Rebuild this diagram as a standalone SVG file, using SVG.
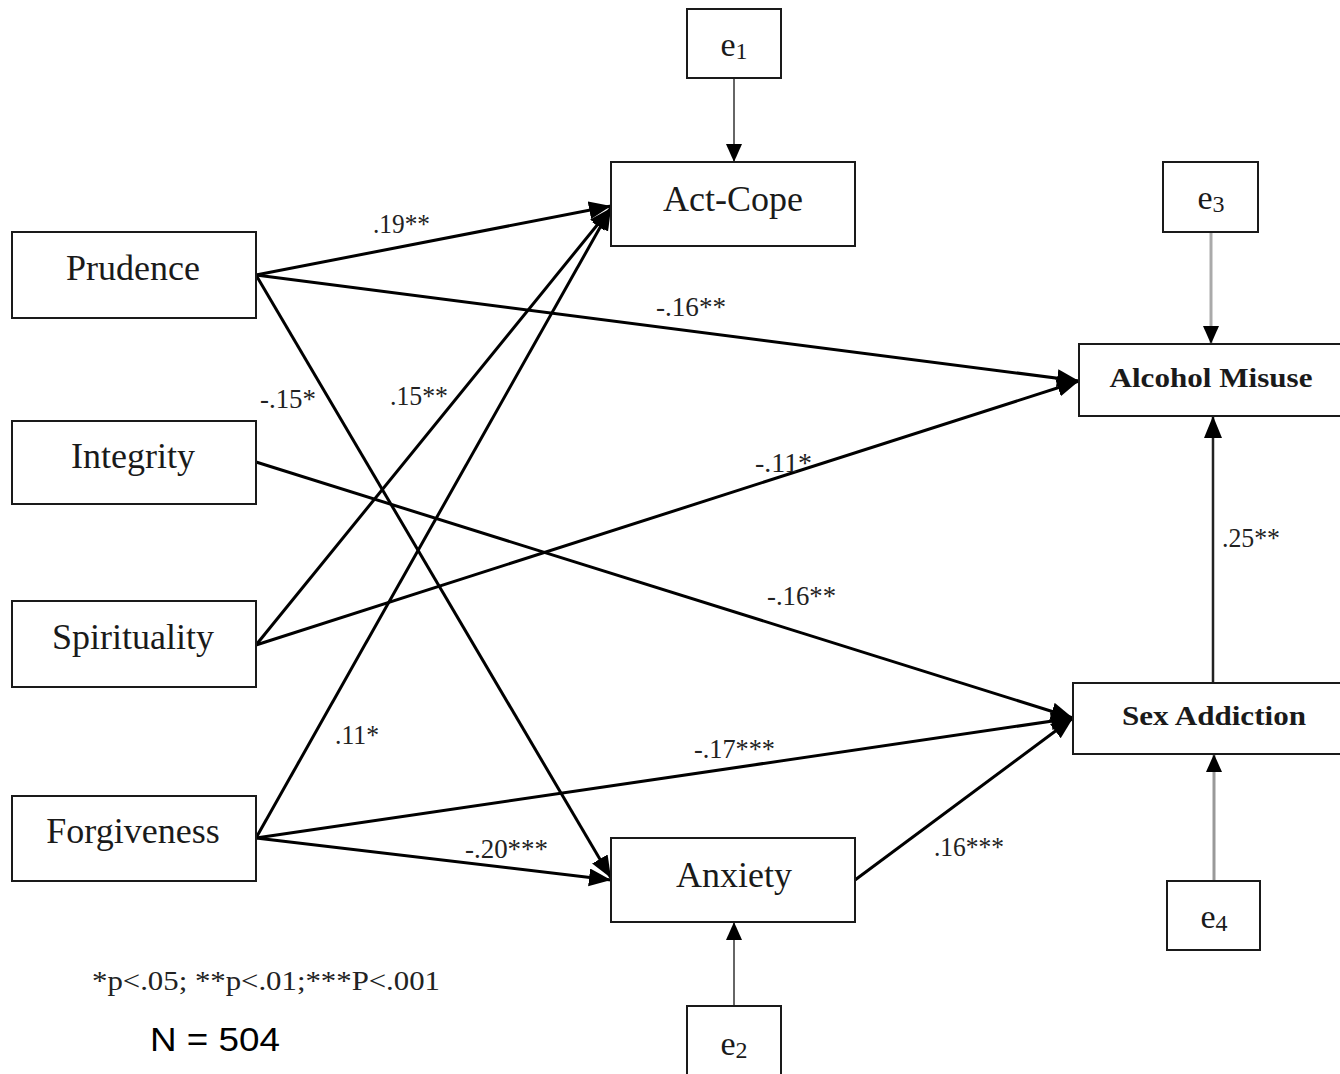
<svg xmlns="http://www.w3.org/2000/svg" width="1340" height="1074" viewBox="0 0 1340 1074">
  <style>
    .box { fill: #fff; stroke: #1a1a1a; stroke-width: 2; }
    .lbl { font-family: "Liberation Serif", "Times New Roman", serif; font-size: 36px; fill: #1a1a1a; text-anchor: middle; }
    .blbl { font-family: "Liberation Serif", "Times New Roman", serif; font-size: 28px; font-weight: bold; fill: #1a1a1a; text-anchor: middle; }
    .err { font-family: "Liberation Serif", "Times New Roman", serif; font-size: 34px; fill: #1a1a1a; text-anchor: middle; }
    .coef { font-family: "Liberation Serif", "Times New Roman", serif; font-size: 28px; fill: #222; }
    .path { stroke: #000; stroke-width: 3; fill: none; marker-end: url(#head); }
    .resid { stroke: #666; stroke-width: 2; fill: none; marker-end: url(#headSmall); }
    .note { font-family: "Liberation Serif", "Times New Roman", serif; font-size: 27px; fill: #222; }
    .n { font-family: "Liberation Sans", Arial, sans-serif; font-size: 34px; fill: #000; }
  </style>
  <defs>
    <marker id="head" markerUnits="userSpaceOnUse" markerWidth="24" markerHeight="20" refX="22" refY="9" orient="auto">
      <path d="M0,0 L22,9 L0,18 Z" fill="#000"/>
    </marker>
    <marker id="headSmall" markerUnits="userSpaceOnUse" markerWidth="20" markerHeight="20" refX="18" refY="8" orient="auto">
      <path d="M0,0 L18,8 L0,16 Z" fill="#000"/>
    </marker>
  </defs>

  <rect width="1340" height="1074" fill="#fff"/>

  <!-- connectors -->
  <g id="connectors">
    <line class="path" x1="256" y1="275" x2="611" y2="206"/>
    <line class="path" x1="256" y1="275" x2="1079" y2="381"/>
    <line class="path" x1="256" y1="275" x2="611" y2="878"/>
    <line class="path" x1="256" y1="462" x2="1073" y2="718"/>
    <line class="path" x1="256" y1="645" x2="611" y2="208"/>
    <line class="path" x1="256" y1="645" x2="1079" y2="381"/>
    <line class="path" x1="256" y1="838" x2="611" y2="208"/>
    <line class="path" x1="256" y1="838" x2="1073" y2="718"/>
    <line class="path" x1="256" y1="838" x2="611" y2="880"/>
    <line class="path" x1="855" y1="880" x2="1073" y2="718"/>
    <line class="path" style="stroke:#222;stroke-width:2.5" x1="1213" y1="683" x2="1213" y2="416"/>
    <line class="resid" x1="734" y1="78" x2="734" y2="162"/>
    <line class="resid" style="stroke:#aaa;stroke-width:3" x1="1211" y1="232" x2="1211" y2="344"/>
    <line class="resid" style="stroke:#999;stroke-width:3" x1="1214" y1="881" x2="1214" y2="754"/>
    <line class="resid" x1="734" y1="1006" x2="734" y2="922"/>
  </g>

  <!-- path coefficients -->
  <g id="coefficients">
    <text class="coef" x="373" y="233" textLength="57" lengthAdjust="spacingAndGlyphs">.19**</text>
    <text class="coef" x="656" y="316" textLength="70" lengthAdjust="spacingAndGlyphs">-.16**</text>
    <text class="coef" x="260" y="408" textLength="56" lengthAdjust="spacingAndGlyphs">-.15*</text>
    <text class="coef" x="390" y="405" textLength="58" lengthAdjust="spacingAndGlyphs">.15**</text>
    <text class="coef" x="755" y="472" textLength="57" lengthAdjust="spacingAndGlyphs">-.11*</text>
    <text class="coef" x="1222" y="547" textLength="58" lengthAdjust="spacingAndGlyphs">.25**</text>
    <text class="coef" x="767" y="605" textLength="69" lengthAdjust="spacingAndGlyphs">-.16**</text>
    <text class="coef" x="335" y="744" textLength="44" lengthAdjust="spacingAndGlyphs">.11*</text>
    <text class="coef" x="694" y="758" textLength="81" lengthAdjust="spacingAndGlyphs">-.17***</text>
    <text class="coef" x="465" y="858" textLength="83" lengthAdjust="spacingAndGlyphs">-.20***</text>
    <text class="coef" x="934" y="856" textLength="70" lengthAdjust="spacingAndGlyphs">.16***</text>
  </g>

  <!-- predictors -->
  <g id="prudence">
    <rect class="box" x="12" y="232" width="244" height="86"/>
    <text class="lbl" x="133" y="280">Prudence</text>
  </g>
  <g id="integrity">
    <rect class="box" x="12" y="421" width="244" height="83"/>
    <text class="lbl" x="133" y="468">Integrity</text>
  </g>
  <g id="spirituality">
    <rect class="box" x="12" y="601" width="244" height="86"/>
    <text class="lbl" x="133" y="649">Spirituality</text>
  </g>
  <g id="forgiveness">
    <rect class="box" x="12" y="796" width="244" height="85"/>
    <text class="lbl" x="133" y="843">Forgiveness</text>
  </g>

  <!-- mediators -->
  <g id="act-cope">
    <rect class="box" x="611" y="162" width="244" height="84"/>
    <text class="lbl" x="733" y="211">Act-Cope</text>
  </g>
  <g id="anxiety">
    <rect class="box" x="611" y="838" width="244" height="84"/>
    <text class="lbl" x="734" y="887">Anxiety</text>
  </g>

  <!-- outcomes -->
  <g id="alcohol-misuse">
    <rect class="box" x="1079" y="344" width="262" height="72"/>
    <text class="blbl" x="1211" y="387" textLength="203" lengthAdjust="spacingAndGlyphs">Alcohol Misuse</text>
  </g>
  <g id="sex-addiction">
    <rect class="box" x="1073" y="683" width="268" height="71"/>
    <text class="blbl" x="1214" y="725" textLength="184" lengthAdjust="spacingAndGlyphs">Sex Addiction</text>
  </g>

  <!-- residual terms -->
  <g id="e1">
    <rect class="box" x="687" y="9" width="94" height="69"/>
    <text class="err" x="734" y="56">e<tspan font-size="24" dy="3">1</tspan></text>
  </g>
  <g id="e2">
    <rect class="box" x="687" y="1006" width="94" height="72"/>
    <text class="err" x="734" y="1055">e<tspan font-size="24" dy="3">2</tspan></text>
  </g>
  <g id="e3">
    <rect class="box" x="1163" y="162" width="95" height="70"/>
    <text class="err" x="1211" y="209">e<tspan font-size="24" dy="3">3</tspan></text>
  </g>
  <g id="e4">
    <rect class="box" x="1167" y="881" width="93" height="69"/>
    <text class="err" x="1214" y="928">e<tspan font-size="24" dy="3">4</tspan></text>
  </g>

  <!-- notes -->
  <text class="note" x="92" y="990" textLength="348" lengthAdjust="spacingAndGlyphs">*p&lt;.05; **p&lt;.01;***P&lt;.001</text>
  <text class="n" x="150" y="1051" textLength="130" lengthAdjust="spacingAndGlyphs">N = 504</text>
</svg>
